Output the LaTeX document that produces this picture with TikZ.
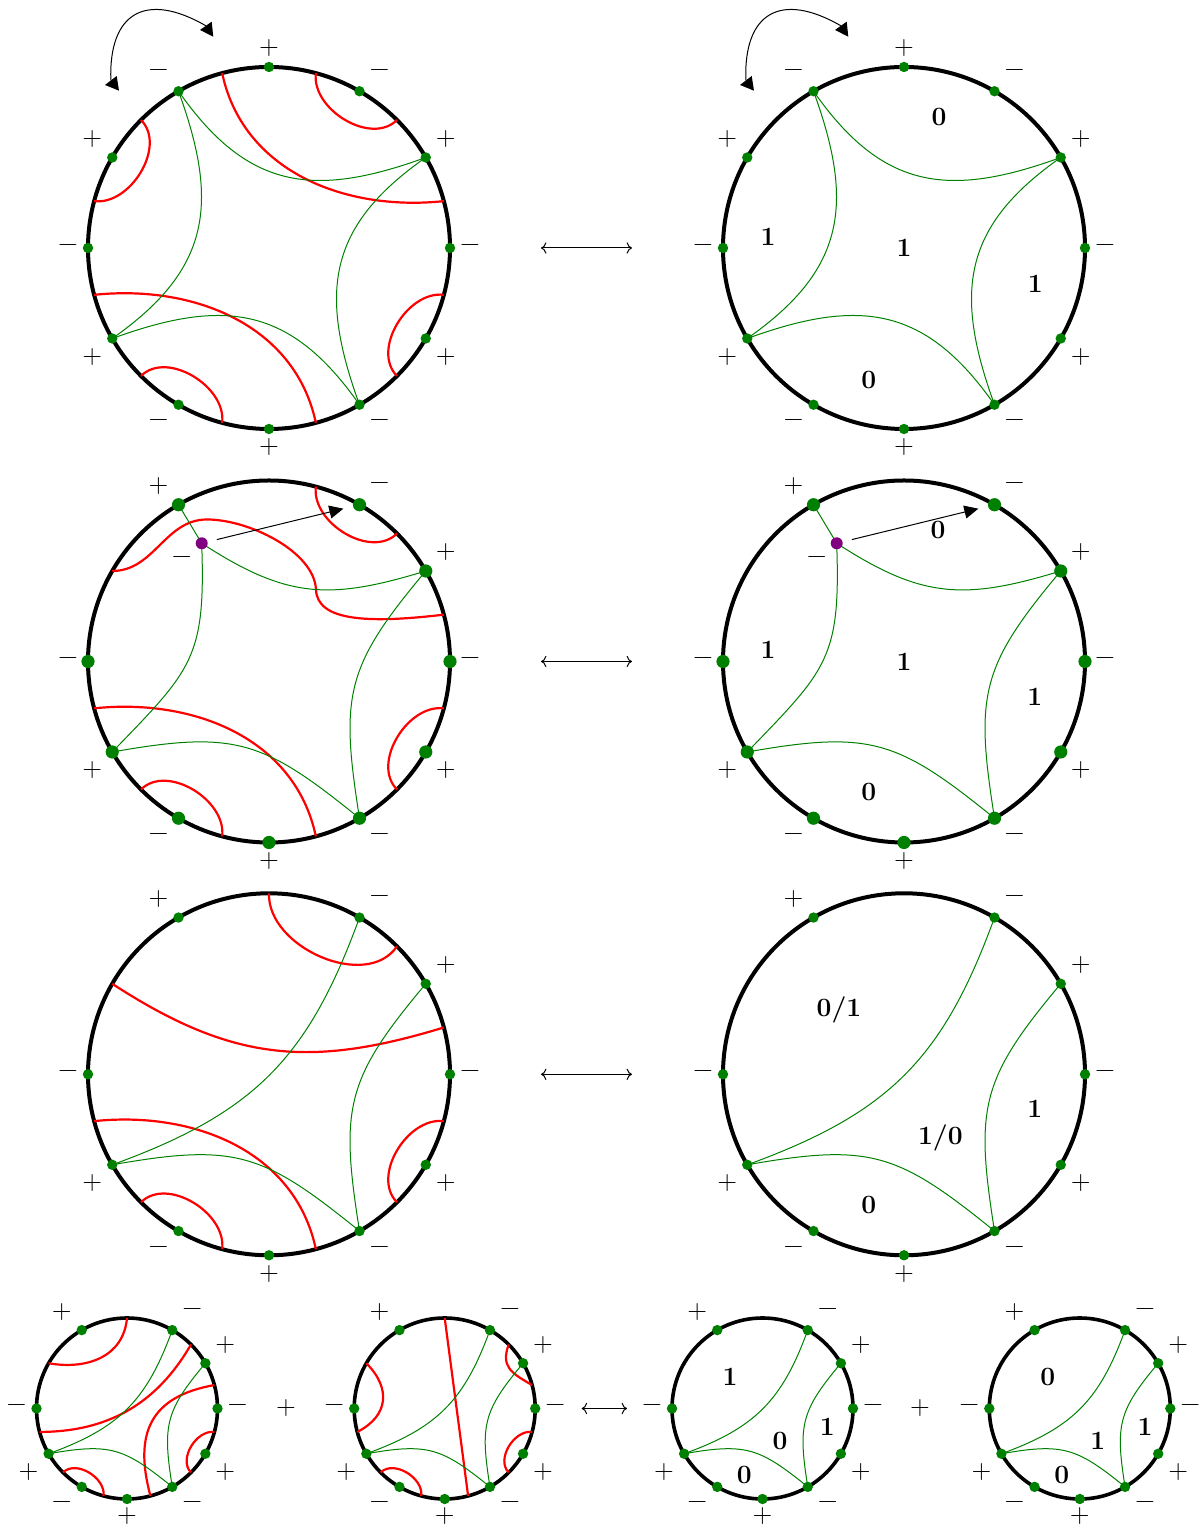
\documentclass[tikz,border=0pt]{standalone}
\usepackage{fontspec}
\usetikzlibrary{calc,arrows.meta}
\definecolor{ggreen}{RGB}{0,128,0}
\definecolor{pviolet}{RGB}{128,0,128}
\pgfdeclarelayer{bg}
\pgfsetlayers{bg,main}
\tikzset{
  ring/.style={line width=2pt},
  smallring/.style={line width=1.8pt},
  rline/.style={red, line width=1.1pt},
  gline/.style={ggreen, line width=0.5pt},
  dot/.style={circle, fill=ggreen, inner sep=0pt, minimum size=5.2pt},
  bigdot/.style={circle, fill=ggreen, inner sep=0pt, minimum size=6.6pt},
  pdot/.style={circle, fill=pviolet, inner sep=0pt, minimum size=6pt},
  sgn/.style={font=\fontsize{13}{15}\selectfont, inner sep=0pt},
  num/.style={font=\fontsize{13.2}{15}\selectfont\bfseries, anchor=base, yshift=-4.25pt, inner sep=0pt},
  thinarrow/.style={line width=0.5pt},
  headarrow/.style={line width=0.5pt, -{Triangle[length=7pt,width=6.5pt]}},
}
\def\RR{181}
\def\rr{90.5}
\def\lbbot{-18.5}
\newcommand\placedots[4]{\foreach \ang in {#4}{\node[#3] (#1\ang) at (\ang:#2) {};}}
\newcommand\signlabels[3]{\foreach \ang/\sg in #3{%
  \pgfmathsetmacro\lbdx{cos(\ang)>0.01 ? 20 : (cos(\ang)< -0.01 ? -20 : 0)}%
  \pgfmathsetmacro\lbdy{sin(\ang)>0.01 ? 18.5 : (sin(\ang)< -0.99 ? \lbbot : (sin(\ang)< -0.01 ? -18.5 : 0))}%
  \node[sgn] (#1s\ang) at ($(\ang:#2)+(\lbdx,\lbdy)$) {\sg};}}
\newcommand\redbottom[1]{%
  \draw[rline] (-15:#1) to[out=173,in=135] (-45:#1);
  \draw[rline] (-105:#1) to[out=83,in=45] (-135:#1);}
\newcommand\greenA[1]{%
  \draw[gline] (#1120.center) to[out=-55,in=200,looseness=1.2] (#130.center);
  \draw[gline] (#130.center) to[out=-145,in=110,looseness=1.2] (#1-60.center);
  \draw[gline] (#1-60.center) to[out=125,in=20,looseness=1.2] (#1-150.center);
  \draw[gline] (#1-150.center) to[out=35,in=290,looseness=1.2] (#1120.center);}
\newcommand\greenB[1]{%
  \draw[gline] (#1120.center) -- (#1Q.center);
  \draw[gline] (#1Q.center) to[out=-33,in=197,looseness=1.15] (#130.center);
  \draw[gline] (#1Q.center) to[out=-88,in=46,looseness=1.3] (#1-150.center);
  \draw[gline] (#130.center) to[out=-130,in=99,looseness=1.25] (#1-60.center);
  \draw[gline] (#1-150.center) to[out=10,in=141,looseness=1.25] (#1-60.center);}
\newcommand\greenC[1]{%
  \draw[gline] (#160.center) to[out=250,in=20,looseness=1.1] (#1-150.center);
  \draw[gline] (#130.center) to[out=-130,in=99,looseness=1.25] (#1-60.center);
  \draw[gline] (#1-150.center) to[out=10,in=141,looseness=1.25] (#1-60.center);}
\def\fulllist{90/+,60/−,30/+,0/−,-30/+,-60/−,-90/+,-120/−,-150/+,180/−,150/+,120/−}
\def\partlist{120/+,60/−,30/+,0/−,-30/+,-60/−,-90/+,-120/−,-150/+,180/−}
\begin{document}
\begin{tikzpicture}[x=0.5pt,y=0.5pt]
\useasboundingbox (0,0) rectangle (1200,1526);

% ---------- rotation arrows on top
\foreach \sx/\nm in {0/a,635/b}{
\begin{scope}[shift={(\sx,0)}]
  \coordinate (rot\nm1) at (110.85,1445.5);
  \coordinate (rot\nm2) at (205.85,1500.2);
  \draw[thinarrow] (rot\nm1) to[out=92,in=150,looseness=1.6] (rot\nm2);
  \fill (105,1441) -- (116.7,1450) -- (119,1435.3) -- cycle;
  \fill (200,1496) -- (211.7,1504.3) -- (213.3,1489.3) -- cycle;
\end{scope}}

% ---------- Row 1 left
\begin{scope}[shift={(269,1278)}]
\begin{pgfonlayer}{bg}
  \draw[ring] (0,0) circle[radius=\RR];
  \draw[rline] (75:\RR) to[out=-97,in=225] (45:\RR);
  \draw[rline] (165:\RR) to[out=-7,in=315] (135:\RR);
  \draw[rline] (105:\RR) to[out=-78,in=186] (15:\RR);
  \draw[rline] (-75:\RR) to[out=102,in=6] (-165:\RR);
  \redbottom{\RR}
\end{pgfonlayer}
\placedots{A}{\RR}{dot}{90,60,30,0,-30,-60,-90,-120,-150,180,150,120}
\begin{pgfonlayer}{bg}\greenA{A}\end{pgfonlayer}
\signlabels{A}{\RR}{\fulllist}
\end{scope}

% ---------- Row 1 right
\begin{scope}[shift={(904,1278)}]
\begin{pgfonlayer}{bg}
  \draw[ring] (0,0) circle[radius=\RR];
\end{pgfonlayer}
\placedots{D}{\RR}{dot}{90,60,30,0,-30,-60,-90,-120,-150,180,150,120}
\begin{pgfonlayer}{bg}\greenA{D}\end{pgfonlayer}
\signlabels{D}{\RR}{\fulllist}
\node[num] (Dn1) at (35,130.7) {0};
\node[num] (Dn2) at (-136,11.3) {1};
\node[num] (Dn3) at (0,-0.3) {1};
\node[num] (Dn4) at (131.4,-36.3) {1};
\node[num] (Dn5) at (-35.3,-132) {0};
\end{scope}

% ---------- Row 2 left
\begin{scope}[shift={(269,864.5)}]
\begin{pgfonlayer}{bg}
  \draw[ring] (0,0) circle[radius=\RR];
  \draw[rline] (75:\RR) to[out=-97,in=225] (45:\RR);
  \draw[rline] (150:\RR) to[out=0,in=180] (-62,142) .. controls (-20,142) and (45,110) .. (47,72) .. controls (48,40) and (100,38) .. (15:\RR);
  \draw[rline] (-75:\RR) to[out=102,in=6] (-165:\RR);
  \redbottom{\RR}
\end{pgfonlayer}
\placedots{B}{\RR}{bigdot}{120,60,30,0,-30,-60,-90,-120,-150,180}
\node[pdot] (BQ) at (-67.3,118.2) {};
\begin{pgfonlayer}{bg}\greenB{B}\end{pgfonlayer}
\signlabels{B}{\RR}{\partlist}
\node[sgn] (BQs) at (-87.3,101.2) {−};
\draw[headarrow, shorten <=7.8pt, shorten >=8.3pt] (BQ.center) -- (B60.center);
\end{scope}

% ---------- Row 2 right
\begin{scope}[shift={(904,864.5)}]
\begin{pgfonlayer}{bg}
  \draw[ring] (0,0) circle[radius=\RR];
\end{pgfonlayer}
\placedots{E}{\RR}{bigdot}{120,60,30,0,-30,-60,-90,-120,-150,180}
\node[pdot] (EQ) at (-67.3,118.2) {};
\begin{pgfonlayer}{bg}\greenB{E}\end{pgfonlayer}
\signlabels{E}{\RR}{\partlist}
\node[sgn] (EQs) at (-87.3,101.2) {−};
\draw[headarrow, shorten <=7.8pt, shorten >=8.3pt] (EQ.center) -- (E60.center);
\node[num] (En1) at (34,131.5) {0};
\node[num] (En2) at (-136,11.5) {1};
\node[num] (En3) at (0,-0.2) {1};
\node[num] (En4) at (130.7,-35.2) {1};
\node[num] (En5) at (-35.3,-130.8) {0};
\end{scope}

% ---------- Row 3 left
\begin{scope}[shift={(269,451.7)}]
\begin{pgfonlayer}{bg}
  \draw[ring] (0,0) circle[radius=\RR];
  \draw[rline] (90:\RR) to[out=-92,in=236] (45:\RR);
  \draw[rline] (150:\RR) to[out=-33,in=197,looseness=1.08] (15:\RR);
  \draw[rline] (-75:\RR) to[out=102,in=6] (-165:\RR);
  \redbottom{\RR}
\end{pgfonlayer}
\placedots{C}{\RR}{dot}{120,60,30,0,-30,-60,-90,-120,-150,180}
\begin{pgfonlayer}{bg}\greenC{C}\end{pgfonlayer}
\signlabels{C}{\RR}{\partlist}
\end{scope}

% ---------- Row 3 right
\begin{scope}[shift={(904,451.7)}]
\begin{pgfonlayer}{bg}
  \draw[ring] (0,0) circle[radius=\RR];
\end{pgfonlayer}
\placedots{F}{\RR}{dot}{120,60,30,0,-30,-60,-90,-120,-150,180}
\begin{pgfonlayer}{bg}\greenC{F}\end{pgfonlayer}
\signlabels{F}{\RR}{\partlist}
\node[num] (Fn1) at (-65,66) {0/1};
\node[num] (Fn2) at (36.4,-61.4) {1/0};
\node[num] (Fn3) at (130.7,-35) {1};
\node[num] (Fn4) at (-35.3,-130.7) {0};
\end{scope}

\def\lbbot{-16.6}
% ---------- Row 4, circle 1
\begin{scope}[shift={(127,117.5)}]
\begin{pgfonlayer}{bg}
  \draw[smallring] (0,0) circle[radius=\rr];
  \draw[rline] (90:\rr) to[out=-95,in=-10,looseness=1.1] (150:\rr);
  \draw[rline] (-165:\rr) to[out=0,in=240] (45:\rr);
  \draw[rline] (15:\rr) to[out=190,in=105,looseness=1.3] (-75:\rr);
  \redbottom{\rr}
\end{pgfonlayer}
\placedots{G}{\rr}{dot}{120,60,30,0,-30,-60,-90,-120,-150,180}
\begin{pgfonlayer}{bg}\greenC{G}\end{pgfonlayer}
\signlabels{G}{\rr}{\partlist}
\end{scope}

% ---------- Row 4, circle 2
\begin{scope}[shift={(444.7,117.5)}]
\begin{pgfonlayer}{bg}
  \draw[smallring] (0,0) circle[radius=\rr];
  \draw[rline] (90:\rr) -- (-75:\rr);
  \draw[rline] (150:\rr) to[out=-45,in=27,looseness=1.3] (195:\rr);
  \draw[rline] (45:\rr) to[out=-110,in=150,looseness=1.3] (15:\rr);
  \redbottom{\rr}
\end{pgfonlayer}
\placedots{H}{\rr}{dot}{120,60,30,0,-30,-60,-90,-120,-150,180}
\begin{pgfonlayer}{bg}\greenC{H}\end{pgfonlayer}
\signlabels{H}{\rr}{\partlist}
\end{scope}

% ---------- Row 4, circle 3
\begin{scope}[shift={(762.5,117.5)}]
\begin{pgfonlayer}{bg}
  \draw[smallring] (0,0) circle[radius=\rr];
\end{pgfonlayer}
\placedots{I}{\rr}{dot}{120,60,30,0,-30,-60,-90,-120,-150,180}
\begin{pgfonlayer}{bg}\greenC{I}\end{pgfonlayer}
\signlabels{I}{\rr}{\partlist}
\node[num] (In1) at (-32.5,31.2) {1};
\node[num] (In2) at (17.5,-32.2) {0};
\node[num] (In3) at (64.8,-18.2) {1};
\node[num] (In4) at (-18.2,-66.5) {0};
\end{scope}

% ---------- Row 4, circle 4
\begin{scope}[shift={(1079.8,117.5)}]
\begin{pgfonlayer}{bg}
  \draw[smallring] (0,0) circle[radius=\rr];
\end{pgfonlayer}
\placedots{J}{\rr}{dot}{120,60,30,0,-30,-60,-90,-120,-150,180}
\begin{pgfonlayer}{bg}\greenC{J}\end{pgfonlayer}
\signlabels{J}{\rr}{\partlist}
\node[num] (Jn1) at (-32,31.2) {0};
\node[num] (Jn2) at (17.9,-32.2) {1};
\node[num] (Jn3) at (65.2,-18.2) {1};
\node[num] (Jn4) at (-18,-66.5) {0};
\end{scope}

% ---------- connectors between columns
\coordinate (h1a) at (541,1278); \coordinate (h1b) at (632,1278);
\coordinate (h2a) at (541,864.5); \coordinate (h2b) at (632,864.5);
\coordinate (h3a) at (541,451.7); \coordinate (h3b) at (632,451.7);
\coordinate (h4a) at (581.7,117.5); \coordinate (h4b) at (627,117.5);
\draw[thinarrow,<->] (h1a) -- (h1b);
\draw[thinarrow,<->] (h2a) -- (h2b);
\draw[thinarrow,<->] (h3a) -- (h3b);
\draw[thinarrow,<->] (h4a) -- (h4b);
\node[sgn] (plus1) at (286,117.5) {+};
\node[sgn] (plus2) at (920,117.5) {+};
\end{tikzpicture}
\end{document}
